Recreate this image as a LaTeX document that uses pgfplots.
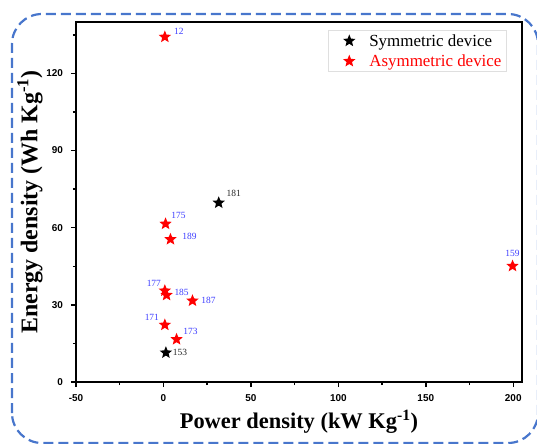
\documentclass[border=0pt]{standalone}
\usepackage{fontspec}
\setmainfont{Liberation Serif}
\setsansfont{Liberation Sans}
\usepackage{pgfplots}
\pgfplotsset{compat=1.18}

\definecolor{frameblue}{RGB}{72,118,204}
\definecolor{lblblue}{RGB}{60,60,255}

% filled five-pointed star
\pgfdeclareplotmark{fstar}{%
  \pgfpathmoveto{\pgfpointpolar{90}{\pgfplotmarksize}}%
  \pgfpathlineto{\pgfpointpolar{126}{0.44\pgfplotmarksize}}%
  \pgfpathlineto{\pgfpointpolar{162}{\pgfplotmarksize}}%
  \pgfpathlineto{\pgfpointpolar{198}{0.44\pgfplotmarksize}}%
  \pgfpathlineto{\pgfpointpolar{234}{\pgfplotmarksize}}%
  \pgfpathlineto{\pgfpointpolar{270}{0.44\pgfplotmarksize}}%
  \pgfpathlineto{\pgfpointpolar{306}{\pgfplotmarksize}}%
  \pgfpathlineto{\pgfpointpolar{342}{0.44\pgfplotmarksize}}%
  \pgfpathlineto{\pgfpointpolar{18}{\pgfplotmarksize}}%
  \pgfpathlineto{\pgfpointpolar{54}{0.44\pgfplotmarksize}}%
  \pgfpathclose
  \pgfusepathqfill
}

\begin{document}
\begin{tikzpicture}
\begin{axis}[
    scale only axis,
    width=446bp, height=360bp,
    xmin=-50, xmax=205,
    ymin=0, ymax=140,
    xtick={-50,0,...,200},
    ytick={0,30,...,120},
    minor xtick={-25,25,75,125,175},
    minor ytick={15,45,75,105,135},
    tick align=outside,
    tick pos=left,
    major tick length=5bp,
    minor tick length=3bp,
    axis line style={draw=black, line width=2bp},
    every tick/.append style={black, line width=1.4bp},
    ticklabel style={font=\fontsize{10}{12}\sffamily\bfseries},
    /pgf/number format/assume math mode=true,
    xticklabel style={yshift=-4bp},
    yticklabel style={xshift=-4.5bp},
    xlabel={\textbf{Power density (kW Kg\textsuperscript{-1})}},
    ylabel={\textbf{Energy density (Wh Kg\textsuperscript{-1})}},
    x label style={font=\fontsize{22.5}{26}\selectfont,
        at={(axis description cs:0.5,0)}, anchor=center, yshift=-40bp},
    y label style={font=\fontsize{24}{28}\selectfont,
        at={(axis description cs:0,0.5)}, anchor=center, yshift=46bp},
    legend style={at={(0.966,0.978)}, anchor=north east, draw=gray!25,
        line width=0.8bp, font=\fontsize{17}{20}\selectfont,
        inner xsep=3bp, inner ysep=2bp,
        cells={anchor=west}, row sep=3bp},
    legend image code/.code={%
        \path[draw=none] (0bp,0bp) -- (36bp,0bp);
        \path[#1, draw=none] plot coordinates {(18bp,0bp)};},
    clip=false,
]
\addplot[only marks, mark=fstar, mark size=6.5bp, color=black]
    coordinates {(31.6,69.7) (1.4,11.4)};
\addlegendentry{Symmetric device}
\addplot[only marks, mark=fstar, mark size=6.5bp, color=red]
    coordinates {
    (0.8,134.2) (1.2,61.5) (4.0,55.5) (199.6,45.1) (0.8,35.5)
    (1.8,33.8) (16.6,31.6) (0.8,22.2) (7.5,16.6)
    };
\addlegendentry{\textcolor{red}{Asymmetric device}}

% plot frame
\draw[black, line width=2bp] (rel axis cs:0,0) rectangle (rel axis cs:1,1);

\begin{scope}[every node/.style={font=\fontsize{9.5}{11}\selectfont, inner sep=0pt}]
\node[text=black!85] at (axis cs:31.6,69.7)  [xshift=15bp, yshift=9bp] {181};
\node[text=black!85] at (axis cs:1.4,11.4)   [xshift=14bp] {153};
\node[text=lblblue]  at (axis cs:0.8,134.2)  [xshift=14bp, yshift=6bp] {12};
\node[text=lblblue]  at (axis cs:1.2,61.5)   [xshift=13bp, yshift=8bp] {175};
\node[text=lblblue]  at (axis cs:4.0,55.5)   [xshift=19bp, yshift=3bp] {189};
\node[text=lblblue]  at (axis cs:199.6,45.1) [yshift=13bp] {159};
\node[text=lblblue]  at (axis cs:0.8,35.5)   [xshift=-11bp, yshift=7bp] {177};
\node[text=lblblue]  at (axis cs:1.8,33.8)   [xshift=15bp, yshift=3bp] {185};
\node[text=lblblue]  at (axis cs:16.6,31.6)  [xshift=16bp] {187};
\node[text=lblblue]  at (axis cs:0.8,22.2)   [xshift=-13bp, yshift=8bp] {171};
\node[text=lblblue]  at (axis cs:7.5,16.6)   [xshift=14bp, yshift=8bp] {173};
\end{scope}
\end{axis}

% dashed rounded frame round the figure
\draw[frameblue, line width=2.2bp, dash pattern=on 10bp off 5bp, rounded corners=30bp]
    ([shift={(-64bp,-61bp)}]current axis.south west) rectangle
    ([shift={(462bp,368bp)}]current axis.south west);

\pgfresetboundingbox
\path[use as bounding box]
    ([shift={(-76bp,-62bp)}]current axis.south west) rectangle
    ([shift={(461bp,382bp)}]current axis.south west);
\end{tikzpicture}
\end{document}
